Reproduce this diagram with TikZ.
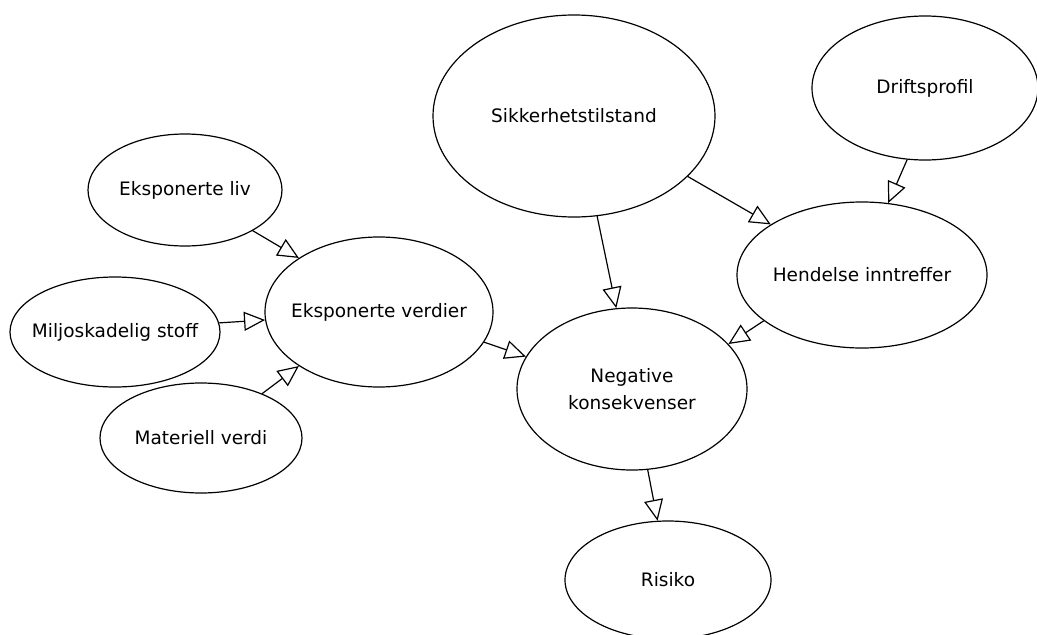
\documentclass[tikz,border=0pt]{standalone}
\usepackage{fontspec}
\setmainfont{DejaVu Sans}
\usetikzlibrary{shapes.geometric,arrows.meta}
\newcommand\ctxt[1]{\makebox[0pt][c]{#1}}
\begin{document}
\begin{tikzpicture}[x=1pt,y=-1pt,
  bub/.style={ellipse,draw,line width=1.2pt,inner sep=0pt,font=\fontsize{18.5}{27}\selectfont,align=center},
  link/.style={line width=1.2pt,-{Triangle[open,length=21pt,width=19pt]}}]
\useasboundingbox (0,0) rectangle (1037,635);
\fill[white] (0,0) rectangle (1037,635);
\node[bub,minimum width=194pt,minimum height=112pt] (liv) at (185,190) {\ctxt{Eksponerte liv}};
\node[bub,minimum width=210pt,minimum height=110pt] (milj) at (115,332) {\ctxt{Miljoskadelig stoff}};
\node[bub,minimum width=202pt,minimum height=110pt] (mat) at (201,438) {\ctxt{Materiell verdi}};
\node[bub,minimum width=228pt,minimum height=150pt] (ev) at (379,312) {\ctxt{Eksponerte verdier}};
\node[bub,minimum width=282pt,minimum height=202pt] (sik) at (574,116) {\ctxt{Sikkerhetstilstand}};
\node[bub,minimum width=226pt,minimum height=144pt] (drift) at (925,88) {\ctxt{Driftsprofil}};
\node[bub,minimum width=250pt,minimum height=146pt] (hend) at (862,275) {\ctxt{Hendelse inntreffer}};
\node[bub,minimum width=230pt,minimum height=162pt] (neg) at (632,389) {\ctxt{Negative}\\\ctxt{konsekvenser}};
\node[bub,minimum width=206pt,minimum height=118pt] (ris) at (668,580) {\ctxt{Risiko}};
\draw[link] (liv.-31) -- (ev.146.6);
\draw[link] (milj.5.5) -- (ev.184);
\draw[link] (mat.36) -- (ev.214.4);
\draw[link] (ev.-16.6) -- (neg.163);
\draw[link] (sik.-77.7) -- (neg.101.9);
\draw[link] (sik.-28.8) -- (hend.151);
\draw[link] (drift.-104.8) -- (hend.70.4);
\draw[link] (hend.205.8) -- (neg.25.8);
\draw[link] (neg.-79) -- (ris.100.6);
\end{tikzpicture}
\end{document}
